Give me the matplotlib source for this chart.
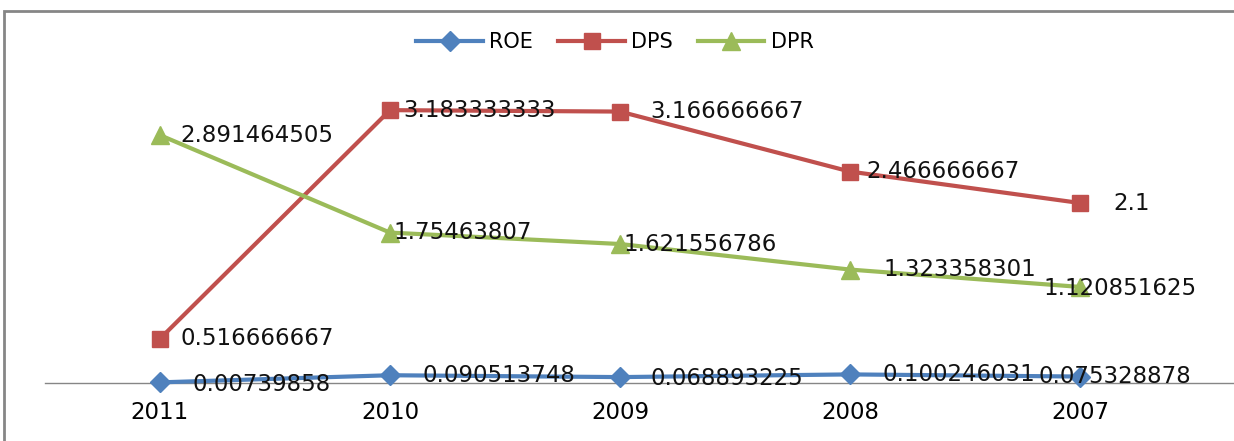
import matplotlib.pyplot as plt
from matplotlib.patches import Rectangle

# Data
years = ['2011', '2010', '2009', '2008', '2007']
roe = [0.00739858, 0.090513748, 0.068893225, 0.100246031, 0.075328878]
dps = [0.516666667, 3.183333333, 3.166666667, 2.466666667, 2.1]
dpr = [2.891464505, 1.75463807, 1.621556786, 1.323358301, 1.120851625]
roe_text = ['0.00739858', '0.090513748', '0.068893225', '0.100246031', '0.075328878']
dps_text = ['0.516666667', '3.183333333', '3.166666667', '2.466666667', '2.1']
dpr_text = ['2.891464505', '1.75463807', '1.621556786', '1.323358301', '1.120851625']

fig = plt.figure(figsize=(12.34, 4.41), dpi=100)
ax = fig.add_axes([45 / 1234, 58 / 441, 1 - 45 / 1234, 300 / 441])

# chart border (cut off at right and bottom like the reference)
fig.patches.append(Rectangle((4 / 1234, -0.1), 1.2, 1.1 - 11 / 441,
                             transform=fig.transFigure, fill=False,
                             edgecolor='#868686', lw=2))

x = list(range(len(years)))
ax.plot(x, roe, color='#4F81BD', lw=3, marker='D', ms=10, label='ROE', clip_on=False, zorder=3)
ax.plot(x, dps, color='#C0504D', lw=3, marker='s', ms=12, label='DPS', clip_on=False, zorder=3)
ax.plot(x, dpr, color='#9BBB59', lw=3, marker='^', ms=13, label='DPR', clip_on=False, zorder=3)

# data labels, offsets in pixels
label_font = dict(fontsize=16.5, color='#111111', va='center', ha='left')
roe_off = [(33, -2), (33, 0), (30, -1), (33, 0), (-42, 0)]
dps_off = [(20, 0), (13, 0), (30, 0), (16, 0), (33, 0)]
dpr_off = [(20, 0), (3, 0), (3, 0), (33, 0), (-37, -2)]
for vals, texts, offs in [(roe, roe_text, roe_off), (dps, dps_text, dps_off), (dpr, dpr_text, dpr_off)]:
    for i in x:
        ax.annotate(texts[i], (i, vals[i]), xytext=offs[i], textcoords='offset pixels',
                    zorder=4, **label_font)

ax.set_xlim(-0.5, 4.5 + 39 / 230)
ax.set_ylim(0, 3.5)
ax.set_xticks(x)
ax.set_xticklabels(years, fontsize=16.5)
ax.tick_params(axis='x', length=0, pad=13)
ax.set_yticks([])
for s in ['top', 'right', 'left']:
    ax.spines[s].set_visible(False)
ax.spines['bottom'].set_color('#868686')
ax.spines['bottom'].set_linewidth(1)

fig.legend(loc='center', bbox_to_anchor=(615 / 1234, 1 - 42 / 441), ncol=3, frameon=False,
           fontsize=15, handlelength=3.2, columnspacing=1.2, handletextpad=0.3)

fig.savefig('out.png', dpi=100)
